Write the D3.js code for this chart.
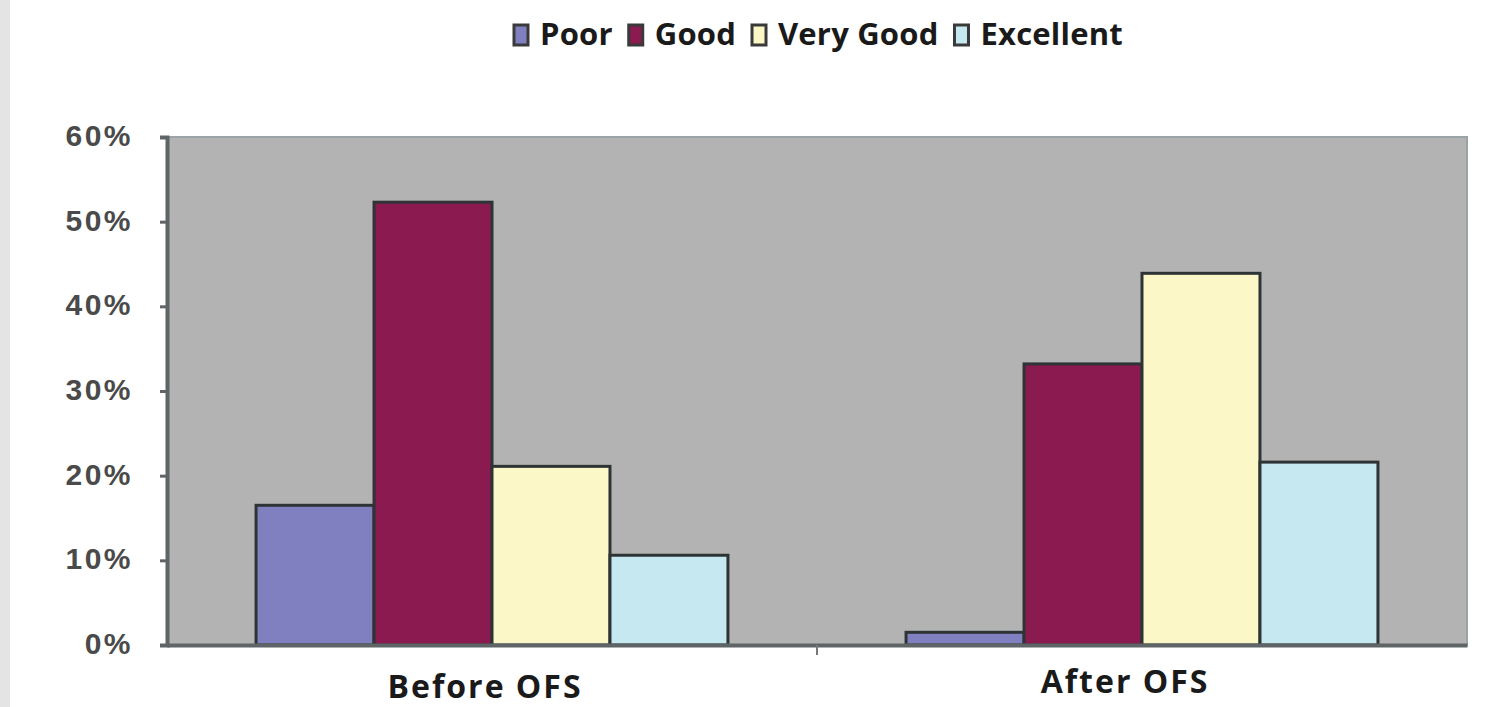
<!DOCTYPE html>
<html>
<head>
<meta charset="utf-8">
<script src="https://cdn.jsdelivr.net/npm/d3@7"></script>
<style>
  body { margin: 0; background: #fff; }
  svg { display: block; }
</style>
</head>
<body>
<svg id="chart" width="1503" height="707"></svg>
<script>
var categories = ["Before OFS", "After OFS"];
var series = ["Poor", "Good", "Very Good", "Excellent"];
var poor = [16.5, 1.5];
var good = [52.3, 33.2];
var veryGood = [21.1, 43.9];
var excellent = [10.6, 21.6];
var yTicks = [0, 10, 20, 30, 40, 50, 60];
var colours = ["#8080c0", "#8b1a50", "#fbf7c6", "#c6e8f0"];

var values = [poor, good, veryGood, excellent];
var data = categories.map(function(c, i) {
  return { cat: c, bars: series.map(function(s, j) { return { key: s, value: values[j][i] }; }) };
});

var svg = d3.select("#chart");
var plotLeft = 167, plotRight = 1467, plotTop = 137, plotBottom = 645;

// grey strip at the left edge
svg.append("rect").attr("x", 0).attr("y", 0).attr("width", 10).attr("height", 707).attr("fill", "#e4e4e4");

var x0 = d3.scaleBand().domain(categories).range([plotLeft, plotRight]).paddingInner(0.274).paddingOuter(0.137);
var x1 = d3.scaleBand().domain(series).range([0, x0.bandwidth()]);
var y = d3.scaleLinear().domain([0, 60]).range([plotBottom, plotTop]);

// plot area
svg.append("rect")
  .attr("x", plotLeft).attr("y", plotTop)
  .attr("width", plotRight - plotLeft).attr("height", plotBottom - plotTop)
  .attr("fill", "#b3b3b3")
  .attr("stroke", "#9aa4a6").attr("stroke-width", 2);

// bars
svg.append("g").selectAll("g")
  .data(data)
  .enter().append("g")
  .attr("transform", function(d) { return "translate(" + x0(d.cat) + ",0)"; })
  .selectAll("rect")
  .data(function(d) { return d.bars; })
  .enter().append("rect")
  .attr("x", function(d) { return x1(d.key); })
  .attr("y", function(d) { return y(d.value); })
  .attr("width", x1.bandwidth())
  .attr("height", function(d) { return plotBottom - y(d.value); })
  .attr("fill", function(d, i) { return colours[i]; })
  .attr("stroke", "#2e3436")
  .attr("stroke-width", 3);

// y axis
var yAxis = svg.append("g")
  .attr("transform", "translate(" + plotLeft + ",0)")
  .call(d3.axisLeft(y).tickValues(yTicks).tickSize(7).tickPadding(27)
    .tickFormat(function(d) { return d + "%"; }));
yAxis.select(".domain").attr("stroke", "#5f6466").attr("stroke-width", 4);
yAxis.selectAll(".tick line").attr("stroke", "#5f6466").attr("stroke-width", 3);
yAxis.selectAll("text")
  .attr("fill", "#4a4a4a")
  .attr("dy", "0.28em")
  .style("font-family", "Liberation Sans, Arial, sans-serif")
  .style("font-weight", "bold")
  .style("letter-spacing", "2.5px")
  .style("font-size", "30px");

// x axis
var xAxis = svg.append("g")
  .attr("transform", "translate(0," + plotBottom + ")")
  .call(d3.axisBottom(x0).tickSize(0).tickPadding(30));
xAxis.select(".domain").attr("stroke", "#5f6466").attr("stroke-width", 4);
xAxis.selectAll("text")
  .attr("fill", "#1a1a1a")
  .style("font-family", "Open Sans, sans-serif")
  .style("font-weight", "bold")
  .style("letter-spacing", "2px")
  .style("font-size", "32px");
xAxis.selectAll(".tick text").attr("dx", function(d, i) { return i === 0 ? -7 : -17; })
  .attr("dy", function(d, i) { return i === 0 ? "0.71em" : "0.55em"; });
// small tick between categories
svg.append("line")
  .attr("x1", (plotLeft + plotRight) / 2).attr("x2", (plotLeft + plotRight) / 2)
  .attr("y1", plotBottom).attr("y2", plotBottom + 10)
  .attr("stroke", "#777").attr("stroke-width", 2);

// legend
var legend = svg.append("g").attr("transform", "translate(513,0)");
var lx = 0;
series.forEach(function(s, i) {
  var g = legend.append("g").attr("transform", "translate(" + lx + ",0)");
  g.append("rect")
    .attr("x", 1).attr("y", 25).attr("width", 14).attr("height", 20)
    .attr("fill", colours[i]).attr("stroke", "#3a3a3a").attr("stroke-width", 3);
  var t = g.append("text")
    .attr("x", 27).attr("y", 45)
    .attr("fill", "#1a1a1a")
    .style("font-family", "Open Sans, sans-serif")
    .style("font-weight", "bold")
    .style("letter-spacing", "0.2px")
    .style("font-size", "31px")
    .text(s);
  lx += 27 + t.node().getComputedTextLength() + 15;
});
</script>
</body>
</html>
